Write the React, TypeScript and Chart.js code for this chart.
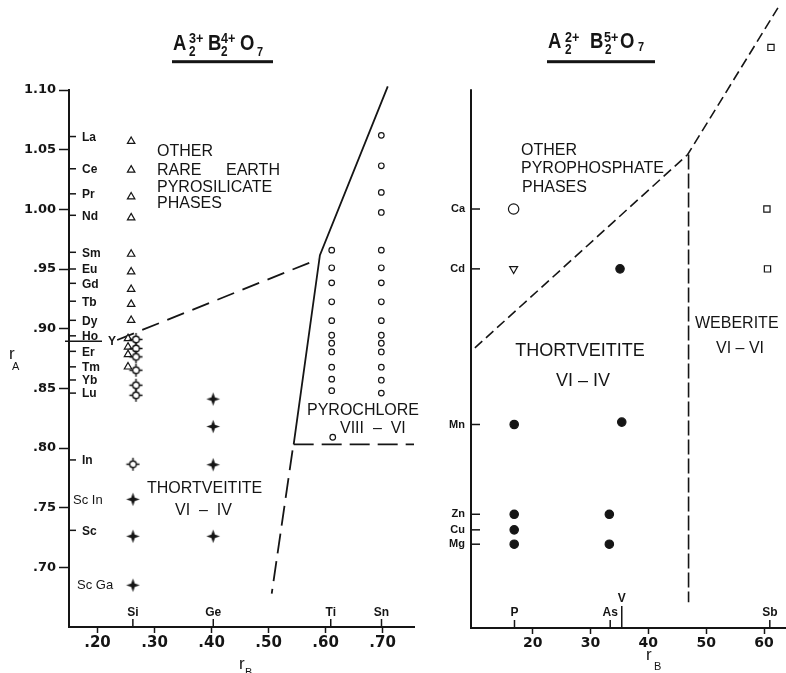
import React, { useEffect, useRef } from 'react';
import { Chart, registerables } from 'chart.js';

Chart.register(...registerables);

const W = 786;
const H = 673;
const INK = '#151515';
const SANS = '"Liberation Sans", Arial, Helvetica, sans-serif';
const NUM = '"DejaVu Sans", "Liberation Sans", sans-serif';

/* ================= Left panel: A2(3+) B2(4+) O7 ================= */
const L_X_MIN = 0.15;
const L_X_MAX = 0.755;
const L_Y_MIN = 0.65;
const L_Y_MAX = 1.1;
const L_X_TICKS = [0.2, 0.3, 0.4, 0.5, 0.6, 0.7];
const L_Y_TICKS = [0.7, 0.75, 0.8, 0.85, 0.9, 0.95, 1.0, 1.05, 1.1];

const L_B_IONS = ['Si', 'Ge', 'Ti', 'Sn'];
const L_B_RADII = [0.262, 0.403, 0.609, 0.698];

const L_A_IONS = ['La', 'Ce', 'Pr', 'Nd', 'Sm', 'Eu', 'Gd', 'Tb', 'Dy', 'Ho', 'Er', 'Tm', 'Yb', 'Lu', 'In', 'Sc'];
const L_A_RADII = [1.061, 1.034, 1.013, 0.995, 0.964, 0.95, 0.938, 0.923, 0.907, 0.894, 0.881, 0.868, 0.857, 0.846, 0.79, 0.731];
const L_A_PAIRS = ['Sc In', 'Sc Ga'];
const L_A_PAIR_RADII = [0.757, 0.686];
const L_Y_LABEL = 'Y';
const L_Y_RADIUS = 0.8895;

// open triangles (other rare-earth pyrosilicate phases)
const L_TRI_X = [0.259, 0.259, 0.259, 0.259, 0.259, 0.259, 0.259, 0.259, 0.259, 0.2535, 0.2535, 0.2535, 0.2535];
const L_TRI_Y = [1.057, 1.033, 1.0105, 0.993, 0.9625, 0.9477, 0.933, 0.9205, 0.907, 0.8918, 0.8847, 0.8784, 0.868];
// open circle-stars
const L_RING_X = [0.2674, 0.2674, 0.2674, 0.2674, 0.2674, 0.2674, 0.2622];
const L_RING_Y = [0.891, 0.8834, 0.8764, 0.8652, 0.8526, 0.8442, 0.7864];
// filled stars (thortveitite)
const L_STAR_X = [0.2622, 0.2622, 0.2622, 0.4028, 0.4028, 0.4028, 0.4028];
const L_STAR_Y = [0.757, 0.726, 0.685, 0.841, 0.818, 0.786, 0.726];
// pyrochlores, Ti column
const L_TI_X = [0.6107, 0.6107, 0.6107, 0.6107, 0.6107, 0.6107, 0.6107, 0.6107, 0.6107, 0.6107, 0.6107, 0.6125];
const L_TI_Y = [0.9658, 0.951, 0.9384, 0.9225, 0.9067, 0.8945, 0.8878, 0.8805, 0.8677, 0.8577, 0.848, 0.809];
// pyrochlores, Sn column
const L_SN_X = [0.6977, 0.6977, 0.6977, 0.6977, 0.6977, 0.6977, 0.6977, 0.6977, 0.6977, 0.6977, 0.6977, 0.6977, 0.6977, 0.6977, 0.6977];
const L_SN_Y = [1.062, 1.0365, 1.0142, 0.9974, 0.9658, 0.951, 0.9384, 0.9225, 0.9067, 0.8945, 0.8878, 0.8805, 0.8677, 0.8568, 0.846];
// phase boundaries
const L_SOLID_X = [0.544, 0.59, 0.709];
const L_SOLID_Y = [0.803, 0.9616, 1.103];
const L_DASH_UPPER_X = [0.2345, 0.586];
const L_DASH_UPPER_Y = [0.8905, 0.958];
const L_DASH_LOWER_X = [0.542, 0.5055];
const L_DASH_LOWER_Y = [0.798, 0.678];
const L_DASH_FLAT_X = [0.544, 0.755];
const L_DASH_FLAT_Y = [0.803, 0.803];

/* ================= Right panel: A2(2+) B2(5+) O7 ================= */
const R_X_MIN = 9.33;
const R_X_MAX = 63.8;
const R_Y_MIN = 0.65;
const R_Y_MAX = 1.1629;
const R_AXIS_TOP = 1.1;
const R_X_TICKS = [20, 30, 40, 50, 60];
const R_B_IONS = ['P', 'As', 'V', 'Sb'];
const R_B_RADII = [16.85, 33.4, 35.4, 61.0];
const R_A_IONS = ['Ca', 'Cd', 'Mn', 'Zn', 'Cu', 'Mg'];
const R_A_RADII = [1.0, 0.95, 0.82, 0.745, 0.732, 0.72];

const R_FILLED_X = [16.8, 16.8, 16.8, 16.8, 33.25, 33.25, 35.1, 35.4];
const R_FILLED_Y = [0.82, 0.745, 0.732, 0.72, 0.745, 0.72, 0.95, 0.822];
const R_CIRCLE_X = [16.7];
const R_CIRCLE_Y = [1.0];
const R_INVTRI_X = [16.7];
const R_INVTRI_Y = [0.95];
const R_SQUARE_X = [60.5, 60.6, 61.2];
const R_SQUARE_Y = [1.0, 0.95, 1.135];
const R_DIAG_X = [10.0, 46.8, 62.4];
const R_DIAG_Y = [0.884, 1.0455, 1.168];
const R_WEB_X = [46.95, 46.95];
const R_WEB_Y = [1.0455, 0.6715];

/* ================= helpers ================= */
const xy = (xs: number[], ys: number[]) => xs.map((x, i) => ({ x, y: ys[i] }));

function pts(xs: number[], ys: number[], style: any, radius: number, filled: boolean, extra: any = {}) {
  return {
    data: xy(xs, ys),
    showLine: false,
    pointStyle: style,
    pointRadius: radius,
    pointHoverRadius: radius,
    pointBorderColor: INK,
    borderColor: INK,
    pointBackgroundColor: filled ? INK : '#fff',
    backgroundColor: filled ? INK : '#fff',
    pointBorderWidth: 1.2,
    ...extra,
  };
}

function line(xs: number[], ys: number[], dash: number[], width = 1.8) {
  return {
    data: xy(xs, ys),
    showLine: true,
    pointRadius: 0,
    pointHoverRadius: 0,
    borderColor: INK,
    borderWidth: width,
    borderDash: dash,
    fill: false,
    tension: 0,
    clip: false,
  };
}

function txt(ctx: CanvasRenderingContext2D, s: string, x: number, cy: number, size: number, weight = 'normal', align: CanvasTextAlign = 'left') {
  ctx.font = `${weight} ${size}px ${SANS}`;
  ctx.textAlign = align;
  ctx.textBaseline = 'alphabetic';
  ctx.fillText(s, x, cy + size * 0.358);
}

function seg(ctx: CanvasRenderingContext2D, x1: number, y1: number, x2: number, y2: number) {
  ctx.beginPath();
  ctx.moveTo(x1, y1);
  ctx.lineTo(x2, y2);
  ctx.stroke();
}

// formula glyph: text, x, baseline, size
function formula(ctx: CanvasRenderingContext2D, parts: [string, number, number, number][]) {
  parts.forEach(([s, x, b, size]) => {
    ctx.save();
    ctx.font = `bold ${size}px ${SANS}`;
    ctx.textAlign = 'left';
    ctx.textBaseline = 'alphabetic';
    ctx.translate(x, b);
    ctx.scale(0.84, 1);
    ctx.fillText(s, 0, 0);
    ctx.restore();
  });
}

function makeFilledStar(): HTMLCanvasElement {
  const s = 15;
  const c = document.createElement('canvas');
  c.width = s;
  c.height = s;
  const g = c.getContext('2d')!;
  const m = s / 2;
  g.fillStyle = INK;
  g.beginPath();
  for (let i = 0; i < 8; i++) {
    const a = -Math.PI / 2 + (i * Math.PI) / 4;
    const r = i % 2 === 0 ? 6.8 : 2.5;
    const px = m + r * Math.cos(a);
    const py = m + r * Math.sin(a);
    if (i === 0) g.moveTo(px, py);
    else g.lineTo(px, py);
  }
  g.closePath();
  g.fill();
  return c;
}

function makeRingStar(): HTMLCanvasElement {
  const s = 15;
  const c = document.createElement('canvas');
  c.width = s;
  c.height = s;
  const g = c.getContext('2d')!;
  const m = s / 2;
  g.strokeStyle = INK;
  g.fillStyle = '#fff';
  g.lineWidth = 1.4;
  g.beginPath();
  g.arc(m, m, 3.3, 0, Math.PI * 2);
  g.fill();
  g.stroke();
  g.beginPath();
  [[0, -1], [1, 0], [0, 1], [-1, 0]].forEach(([dx, dy]) => {
    g.moveTo(m + dx * 3.3, m + dy * 3.3);
    g.lineTo(m + dx * 6.6, m + dy * 6.6);
  });
  g.stroke();
  return c;
}

/* ================= overlays ================= */
const leftOverlay = {
  id: 'leftOverlay',
  afterDraw(chart: any) {
    const { ctx, chartArea: a } = chart;
    const x = chart.scales.x;
    const y = chart.scales.y;
    ctx.save();
    ctx.fillStyle = INK;
    ctx.strokeStyle = INK;
    ctx.lineWidth = 1.5;

    // A-site ion markers on the y axis
    L_A_IONS.forEach((n, i) => {
      const py = y.getPixelForValue(L_A_RADII[i]);
      seg(ctx, a.left, py, a.left + 7, py);
      txt(ctx, n, a.left + 13, py, 12, 'bold');
    });
    L_A_PAIRS.forEach((n, i) => {
      txt(ctx, n, a.left + (i === 0 ? 4 : 8), y.getPixelForValue(L_A_PAIR_RADII[i]), 13, 'normal');
    });
    const yy = y.getPixelForValue(L_Y_RADIUS);
    seg(ctx, a.left - 4, yy, a.left + 33, yy);
    txt(ctx, L_Y_LABEL, a.left + 39, yy, 12, 'bold');

    // B-site ion markers on the x axis
    L_B_IONS.forEach((n, i) => {
      const px = x.getPixelForValue(L_B_RADII[i]);
      seg(ctx, px, a.bottom, px, a.bottom - 8);
      txt(ctx, n, px, a.bottom - 15, 12, 'bold', 'center');
    });

    // region labels
    txt(ctx, 'OTHER', 157, 150.5, 16);
    txt(ctx, 'RARE', 157, 169.5, 16);
    txt(ctx, 'EARTH', 226, 169.5, 16);
    txt(ctx, 'PYROSILICATE', 157, 186.7, 16);
    txt(ctx, 'PHASES', 157, 202.5, 16);
    txt(ctx, 'THORTVEITITE', 147, 487, 16);
    txt(ctx, 'VI  \u2013  IV', 175, 509, 16);
    txt(ctx, 'PYROCHLORE', 307, 409, 16);
    txt(ctx, 'VIII  \u2013  VI', 340, 427, 16);

    // axis titles
    ctx.font = `normal 17px ${SANS}`;
    ctx.textAlign = 'left';
    ctx.fillText('r', 9, 358.5);
    ctx.font = `normal 11px ${SANS}`;
    ctx.fillText('A', 12, 370);
    ctx.font = `normal 17px ${SANS}`;
    ctx.fillText('r', 239, 668.5);
    ctx.font = `normal 11px ${SANS}`;
    ctx.fillText('B', 245, 676);

    // title
    formula(ctx, [
      ['A', 173, 50, 22],
      ['3+', 189, 43, 15],
      ['2', 189, 56, 14],
      ['B', 208, 50, 22],
      ['4+', 221, 43, 15],
      ['2', 221, 56, 14],
      ['O', 240, 50, 22],
      ['7', 257, 55.5, 13],
    ]);
    ctx.fillRect(172, 60.2, 101, 3);
    ctx.restore();
  },
};

const rightOverlay = {
  id: 'rightOverlay',
  afterDraw(chart: any) {
    const { ctx, chartArea: a } = chart;
    const x = chart.scales.x;
    const y = chart.scales.y;
    ctx.save();
    ctx.fillStyle = INK;
    ctx.strokeStyle = INK;

    // vertical axis line (ends at the top tick level)
    ctx.lineWidth = 2;
    seg(ctx, a.left, y.getPixelForValue(R_AXIS_TOP), a.left, a.bottom);
    ctx.lineWidth = 1.5;
    R_A_RADII.forEach((r) => {
      const py = y.getPixelForValue(r);
      seg(ctx, a.left, py, a.left + 9, py);
    });

    // B-site ion markers
    R_B_IONS.forEach((n, i) => {
      const px = x.getPixelForValue(R_B_RADII[i]);
      const len = n === 'V' ? 22 : 8;
      seg(ctx, px, a.bottom, px, a.bottom - len);
      txt(ctx, n, px, a.bottom - len - 8.5, 12, 'bold', 'center');
    });

    // region labels
    txt(ctx, 'OTHER', 521, 149, 16);
    txt(ctx, 'PYROPHOSPHATE', 521, 167.5, 16);
    txt(ctx, 'PHASES', 522, 186.3, 16);
    txt(ctx, 'THORTVEITITE', 580, 350, 18, 'normal', 'center');
    txt(ctx, 'VI \u2013 IV', 583, 380, 18, 'normal', 'center');
    txt(ctx, 'WEBERITE', 695, 322.5, 16);
    txt(ctx, 'VI \u2013 VI', 740, 347.5, 16, 'normal', 'center');

    // axis title
    ctx.textAlign = 'left';
    ctx.font = `normal 17px ${SANS}`;
    ctx.fillText('r', 646, 660);
    ctx.font = `normal 11px ${SANS}`;
    ctx.fillText('B', 654, 670);

    // title
    formula(ctx, [
      ['A', 548, 48, 22],
      ['2+', 565, 41.7, 15],
      ['2', 565, 53.5, 14],
      ['B', 590, 48, 22],
      ['5+', 604, 41.7, 15],
      ['2', 605, 53.5, 14],
      ['O', 620, 48, 22],
      ['7', 638, 50.5, 13],
    ]);
    ctx.fillRect(547, 60.2, 108, 3);
    ctx.restore();
  },
};

/* ================= configs ================= */
function leftConfig(star: HTMLCanvasElement, ring: HTMLCanvasElement): any {
  return {
    type: 'scatter',
    data: {
      datasets: [
        pts(L_STAR_X, L_STAR_Y, star, 7, true),
        pts(L_RING_X, L_RING_Y, ring, 7, false),
        pts(L_TRI_X, L_TRI_Y, 'triangle', 4.3, false),
        pts(L_TI_X, L_TI_Y, 'circle', 2.8, false),
        pts(L_SN_X, L_SN_Y, 'circle', 2.8, false),
        line(L_SOLID_X, L_SOLID_Y, [], 1.8),
        line(L_DASH_UPPER_X, L_DASH_UPPER_Y, [18, 9]),
        line(L_DASH_LOWER_X, L_DASH_LOWER_Y, [20, 8]),
        line(L_DASH_FLAT_X, L_DASH_FLAT_Y, [20, 8]),
      ],
    },
    options: {
      responsive: false,
      devicePixelRatio: 1,
      animation: false,
      events: [],
      layout: { autoPadding: false, padding: { left: 0, top: 90, right: W - 414, bottom: 0 } },
      plugins: { legend: { display: false }, tooltip: { enabled: false } },
      scales: {
        x: {
          type: 'linear',
          position: 'bottom',
          min: L_X_MIN,
          max: L_X_MAX,
          afterBuildTicks: (s: any) => {
            s.ticks = L_X_TICKS.map((v) => ({ value: v }));
          },
          afterFit: (s: any) => {
            s.height = 46;
          },
          ticks: {
            autoSkip: false,
            maxRotation: 0,
            padding: 1,
            color: INK,
            font: { family: NUM, size: 15, weight: 'bold' },
            callback: (v: number) => '.' + Math.round(v * 100),
          },
          grid: { display: true, drawOnChartArea: false, drawTicks: true, tickLength: 6, tickColor: INK, tickWidth: 1.5 },
          border: { display: true, color: INK, width: 2 },
        },
        y: {
          type: 'linear',
          position: 'left',
          min: L_Y_MIN,
          max: L_Y_MAX,
          afterBuildTicks: (s: any) => {
            s.ticks = L_Y_TICKS.map((v) => ({ value: v }));
          },
          afterFit: (s: any) => {
            s.width = 69;
          },
          ticks: {
            autoSkip: false,
            padding: 3,
            color: INK,
            font: { family: NUM, size: 13, weight: 'bold' },
            callback: (v: number) => (v >= 1 ? v.toFixed(2) : v.toFixed(2).substring(1)),
          },
          grid: { display: true, drawOnChartArea: false, drawTicks: true, tickLength: 10, tickColor: INK, tickWidth: 1.5 },
          border: { display: true, color: INK, width: 2 },
        },
      },
    },
    plugins: [leftOverlay],
  };
}

function rightConfig(): any {
  const sortedRadii = [...R_A_RADII].sort((p, q) => p - q);
  return {
    type: 'scatter',
    data: {
      datasets: [
        pts(R_FILLED_X, R_FILLED_Y, 'circle', 4.2, true),
        pts(R_CIRCLE_X, R_CIRCLE_Y, 'circle', 5.2, false),
        pts(R_INVTRI_X, R_INVTRI_Y, 'triangle', 4.6, false, { pointRotation: 180 }),
        pts(R_SQUARE_X, R_SQUARE_Y, 'rect', 4.4, false),
        line(R_DIAG_X, R_DIAG_Y, [10, 5], 1.6),
        line(R_WEB_X, R_WEB_Y, [15, 4], 1.6),
      ],
    },
    options: {
      responsive: false,
      devicePixelRatio: 1,
      animation: false,
      events: [],
      layout: { autoPadding: false, padding: { left: 0, top: 14, right: 0, bottom: 0 } },
      plugins: { legend: { display: false }, tooltip: { enabled: false } },
      scales: {
        x: {
          type: 'linear',
          position: 'bottom',
          min: R_X_MIN,
          max: R_X_MAX,
          afterBuildTicks: (s: any) => {
            s.ticks = R_X_TICKS.map((v) => ({ value: v }));
          },
          afterFit: (s: any) => {
            s.height = 45;
          },
          ticks: {
            autoSkip: false,
            maxRotation: 0,
            padding: 1,
            color: INK,
            font: { family: NUM, size: 14, weight: 'bold' },
            callback: (v: number) => String(v),
          },
          grid: { display: true, drawOnChartArea: false, drawTicks: true, tickLength: 6, tickColor: INK, tickWidth: 1.5 },
          border: { display: true, color: INK, width: 2 },
        },
        y: {
          type: 'linear',
          position: 'left',
          min: R_Y_MIN,
          max: R_Y_MAX,
          afterBuildTicks: (s: any) => {
            s.ticks = sortedRadii.map((v) => ({ value: v }));
          },
          afterFit: (s: any) => {
            s.width = 471;
          },
          ticks: {
            autoSkip: false,
            padding: 6,
            color: INK,
            font: { family: SANS, size: 11, weight: 'bold' },
            callback: (v: number) => {
              const i = R_A_RADII.findIndex((r) => Math.abs(r - v) < 1e-9);
              return i >= 0 ? R_A_IONS[i] : '';
            },
          },
          grid: { display: false, drawTicks: false },
          border: { display: false },
        },
      },
    },
    plugins: [rightOverlay],
  };
}

export default function App() {
  const leftRef = useRef<HTMLCanvasElement>(null);
  const rightRef = useRef<HTMLCanvasElement>(null);

  useEffect(() => {
    const star = makeFilledStar();
    const ring = makeRingStar();
    const left = new Chart(leftRef.current as HTMLCanvasElement, leftConfig(star, ring));
    const right = new Chart(rightRef.current as HTMLCanvasElement, rightConfig());
    return () => {
      left.destroy();
      right.destroy();
    };
  }, []);

  const cs: React.CSSProperties = { position: 'absolute', left: 0, top: 0, width: W, height: H };
  return (
    <div style={{ position: 'absolute', left: 0, top: 0, width: W, height: H, background: '#fff', overflow: 'hidden' }}>
      <canvas ref={leftRef} width={W} height={H} style={cs} />
      <canvas ref={rightRef} width={W} height={H} style={cs} />
    </div>
  );
}
